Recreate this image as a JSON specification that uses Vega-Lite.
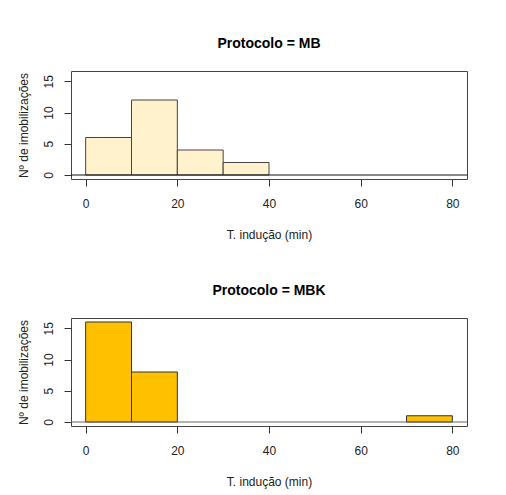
{
  "$schema": "https://vega.github.io/schema/vega-lite/v6.json",
  "background": "white",
  "padding": {"left": 16, "top": 36, "right": 5, "bottom": 5},
  "datasets": {
    "mb": [
      {"start": 0, "end": 10, "count": 6},
      {"start": 10, "end": 20, "count": 12},
      {"start": 20, "end": 30, "count": 4},
      {"start": 30, "end": 40, "count": 2}
    ],
    "mbk": [
      {"start": 0, "end": 10, "count": 16},
      {"start": 10, "end": 20, "count": 8},
      {"start": 70, "end": 80, "count": 1}
    ],
    "zero": [{"z": 0}]
  },
  "config": {
    "font": "Liberation Sans",
    "view": {"stroke": "#444", "strokeWidth": 1},
    "axis": {
      "grid": false,
      "domain": false,
      "tickColor": "#333",
      "tickSize": 7,
      "labelFont": "Liberation Sans",
      "labelFontSize": 12,
      "labelColor": "#222",
      "titleFont": "Liberation Sans",
      "titleFontSize": 12,
      "titleFontWeight": "normal",
      "titleColor": "#222"
    },
    "axisY": {"labelAngle": 270, "labelAlign": "center", "labelBaseline": "bottom", "labelOverlap": false, "labelPadding": 9, "titlePadding": 12, "tickCount": 4},
    "title": {"font": "Liberation Sans", "fontSize": 14, "fontWeight": "bold", "color": "#000", "anchor": "middle", "offset": 20}
  },
  "spacing": 42,
  "vconcat": [
    {
      "title": "Protocolo = MB",
      "width": 396,
      "height": 108,
      "layer": [
        {
          "data": {"name": "mb"},
          "mark": {"type": "bar", "fill": "#FFF2CC", "stroke": "#444", "strokeWidth": 1},
          "encoding": {
            "x": {"field": "start", "type": "quantitative",
              "scale": {"domain": [-3.2, 83.2], "nice": false, "zero": false},
              "axis": {"values": [0, 20, 40, 60, 80], "title": "T. indução (min)", "labelPadding": 12, "titlePadding": 20}},
            "x2": {"field": "end"},
            "y": {"field": "count", "type": "quantitative",
              "scale": {"domain": [-0.64, 16.64], "nice": false, "zero": false},
              "axis": {"values": [0, 5, 10, 15], "title": "Nº de imobilizações"}},
            "y2": {"datum": 0}
          }
        },
        {
          "data": {"name": "zero"},
          "mark": {"type": "rule", "color": "#111", "strokeWidth": 1},
          "encoding": {"y": {"field": "z", "type": "quantitative", "axis": {"values": [0, 5, 10, 15], "title": "Nº de imobilizações"}}}
        }
      ]
    },
    {
      "title": "Protocolo = MBK",
      "width": 396,
      "height": 108,
      "layer": [
        {
          "data": {"name": "mbk"},
          "mark": {"type": "bar", "fill": "#FFC000", "stroke": "#333", "strokeWidth": 1},
          "encoding": {
            "x": {"field": "start", "type": "quantitative",
              "scale": {"domain": [-3.2, 83.2], "nice": false, "zero": false},
              "axis": {"values": [0, 20, 40, 60, 80], "title": "T. indução (min)", "labelPadding": 12, "titlePadding": 20}},
            "x2": {"field": "end"},
            "y": {"field": "count", "type": "quantitative",
              "scale": {"domain": [-0.64, 16.64], "nice": false, "zero": false},
              "axis": {"values": [0, 5, 10, 15], "title": "Nº de imobilizações"}},
            "y2": {"datum": 0}
          }
        },
        {
          "data": {"name": "zero"},
          "mark": {"type": "rule", "color": "#666", "strokeWidth": 1},
          "encoding": {"y": {"field": "z", "type": "quantitative", "axis": {"values": [0, 5, 10, 15], "title": "Nº de imobilizações"}}}
        }
      ]
    }
  ]
}
